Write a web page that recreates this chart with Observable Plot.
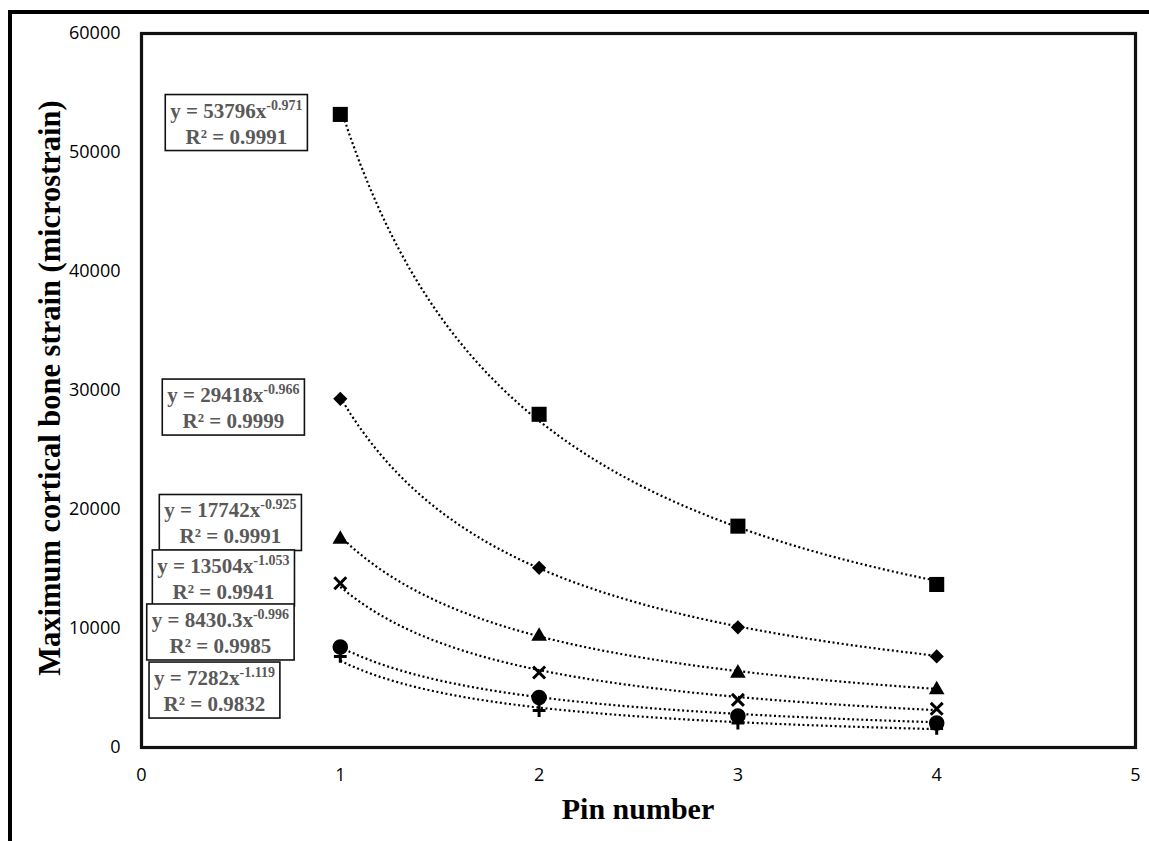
<!DOCTYPE html>
<html>
<head>
<meta charset="utf-8">
<script src="https://cdn.jsdelivr.net/npm/d3@7"></script>
<script src="https://cdn.jsdelivr.net/npm/@observablehq/plot@0.6"></script>
<style>
  html, body { margin: 0; padding: 0; background: #fff; }
  #wrap { position: relative; width: 1149px; height: 841px; overflow: hidden; background: #fff; }
  #outer { position: absolute; left: 8px; top: 10px; width: 2000px; height: 2000px;
           border-left: 4px solid #000; border-top: 4px solid #000; box-sizing: border-box; }
  #chart { position: absolute; left: 0; top: 0; }
  #chart svg g[aria-label^="x-axis"] text,
  #chart svg g[aria-label^="y-axis"] text { font-size: 18px; font-family: 'Open Sans', sans-serif; fill: #000; }
</style>
</head>
<body>
<div id="wrap"><div id="outer"></div><div id="chart"></div></div>
<script>
// ---- data ----
const pins = [1, 2, 3, 4];
const squareVals   = [53200, 28000, 18600, 13700];
const diamondVals  = [29300, 15100, 10100, 7650];
const triangleVals = [17500, 9350, 6250, 4850];
const crossVals    = [13800, 6300, 4000, 3250];
const circleVals   = [8450, 4200, 2650, 2050];
const plusVals     = [7650, 3100, 2050, 1600];

// power trendline coefficients shown in the labels (y = a x^b)
const fitA  = [53796, 29418, 17742, 13504, 8430.3, 7282];
const fitB  = ["-0.971", "-0.966", "-0.925", "-1.053", "-0.996", "-1.119"];
const fitR2 = ["0.9991", "0.9999", "0.9991", "0.9941", "0.9985", "0.9832"];

// label anchor positions (data units)
const eqX = [0.477, 0.462, 0.447, 0.412, 0.397, 0.367];
const eqY = [52560, 28650, 18950, 14290, 9750, 4870];

const xTicks = [0, 1, 2, 3, 4, 5];
const yTicks = [0, 10000, 20000, 30000, 40000, 50000, 60000];

const xTitle = "Pin number";
const yTitle = "Maximum cortical bone strain (microstrain)";

// ---- build ----
const seriesValues = [squareVals, diamondVals, triangleVals, crossVals, circleVals, plusVals];
const symbols = ["square", "diamond2", "triangle", "times", "circle", "plus"];
const radii   = [8.5, 6.4, 5.8, 5.5, 7.8, 4.2];
const stroked = [false, false, false, true, false, true];

const points = [];
seriesValues.forEach((vals, s) => pins.forEach((p, j) => points.push({s, x: p, y: vals[j]})));

const trend = [];
fitA.forEach((a, s) => {
  const b = +fitB[s];
  for (const x of d3.range(1, 4.0001, 0.05)) trend.push({s, x, y: a * Math.pow(x, b)});
});

const eqIdx = fitA.map((_, i) => i);

const marks = [
  Plot.line(trend, {x: "x", y: "y", z: "s", stroke: "#000", strokeWidth: 2.2,
                    strokeDasharray: "2,2.6", strokeLinecap: "butt", curve: "linear"}),
];
symbols.forEach((sym, s) => {
  const data = points.filter(d => d.s === s);
  if (stroked[s]) {
    marks.push(Plot.dot(data, {x: "x", y: "y", symbol: () => sym, r: radii[s],
      fill: "none", stroke: "#000", strokeWidth: 3}));
  } else {
    marks.push(Plot.dot(data, {x: "x", y: "y", symbol: () => sym, r: radii[s],
      fill: "#000", stroke: "none"}));
  }
});
marks.push(Plot.frame({stroke: "#111", strokeWidth: 3.2}));
marks.push(Plot.text(eqIdx, {x: i => eqX[i], y: i => eqY[i], text: i => `y = ${fitA[i]}x`,
  fill: "#595959", fontFamily: "'Liberation Serif', 'Times New Roman', serif",
  fontWeight: "bold", fontSize: 21}));

const svg = Plot.plot({
  width: 1149, height: 841,
  marginLeft: 141, marginRight: 14, marginTop: 33, marginBottom: 94,
  style: {fontFamily: "'Open Sans', sans-serif", fontSize: "18px", color: "#000",
          background: "transparent", overflow: "visible"},
  x: {domain: [0, 5], ticks: xTicks, tickSize: 0, tickPadding: 21, label: null, tickFormat: d => String(d)},
  y: {domain: [0, 60000], ticks: yTicks, tickSize: 0, tickPadding: 21, label: null, tickFormat: d => String(d)},
  symbol: {type: "identity"},
  marks
});
document.getElementById("chart").appendChild(svg);

// equation labels: superscript exponents, second line, and boxes
const texts = svg.querySelectorAll('g[aria-label="text"] text');
texts.forEach((t, i) => {
  const sel = d3.select(t);
  sel.text(null).attr("dy", null).attr("text-anchor", "middle");
  const l1 = sel.append("tspan").attr("x", 0).attr("y", -4.5);
  l1.append("tspan").text(`y = ${fitA[i]}x`);
  l1.append("tspan").attr("font-size", "14px").attr("dy", -8).text(fitB[i]);
  sel.append("tspan").attr("x", 0).attr("y", 21.5).text(`R² = ${fitR2[i]}`);
  const bb = t.getBBox();
  const rect = document.createElementNS("http://www.w3.org/2000/svg", "rect");
  rect.setAttribute("x", bb.x - 5);
  rect.setAttribute("y", bb.y - 3);
  rect.setAttribute("width", bb.width + 10);
  rect.setAttribute("height", bb.height + 5);
  rect.setAttribute("fill", "#fff");
  rect.setAttribute("stroke", "#111");
  rect.setAttribute("stroke-width", "1.6");
  const tr = t.getAttribute("transform");
  if (tr) rect.setAttribute("transform", tr);
  t.parentNode.insertBefore(rect, t);
});

// axis titles
const s = d3.select(svg);
s.append("text")
  .attr("transform", "translate(60,388) rotate(-90)")
  .attr("text-anchor", "middle")
  .attr("font-family", "'Liberation Serif', 'Times New Roman', serif")
  .attr("font-weight", "bold").attr("font-size", 30.5).attr("fill", "#000")
  .text(yTitle);
s.append("text")
  .attr("x", 638).attr("y", 819)
  .attr("text-anchor", "middle")
  .attr("font-family", "'Liberation Serif', 'Times New Roman', serif")
  .attr("font-weight", "bold").attr("font-size", 30).attr("fill", "#000")
  .text(xTitle);
</script>
</body>
</html>
